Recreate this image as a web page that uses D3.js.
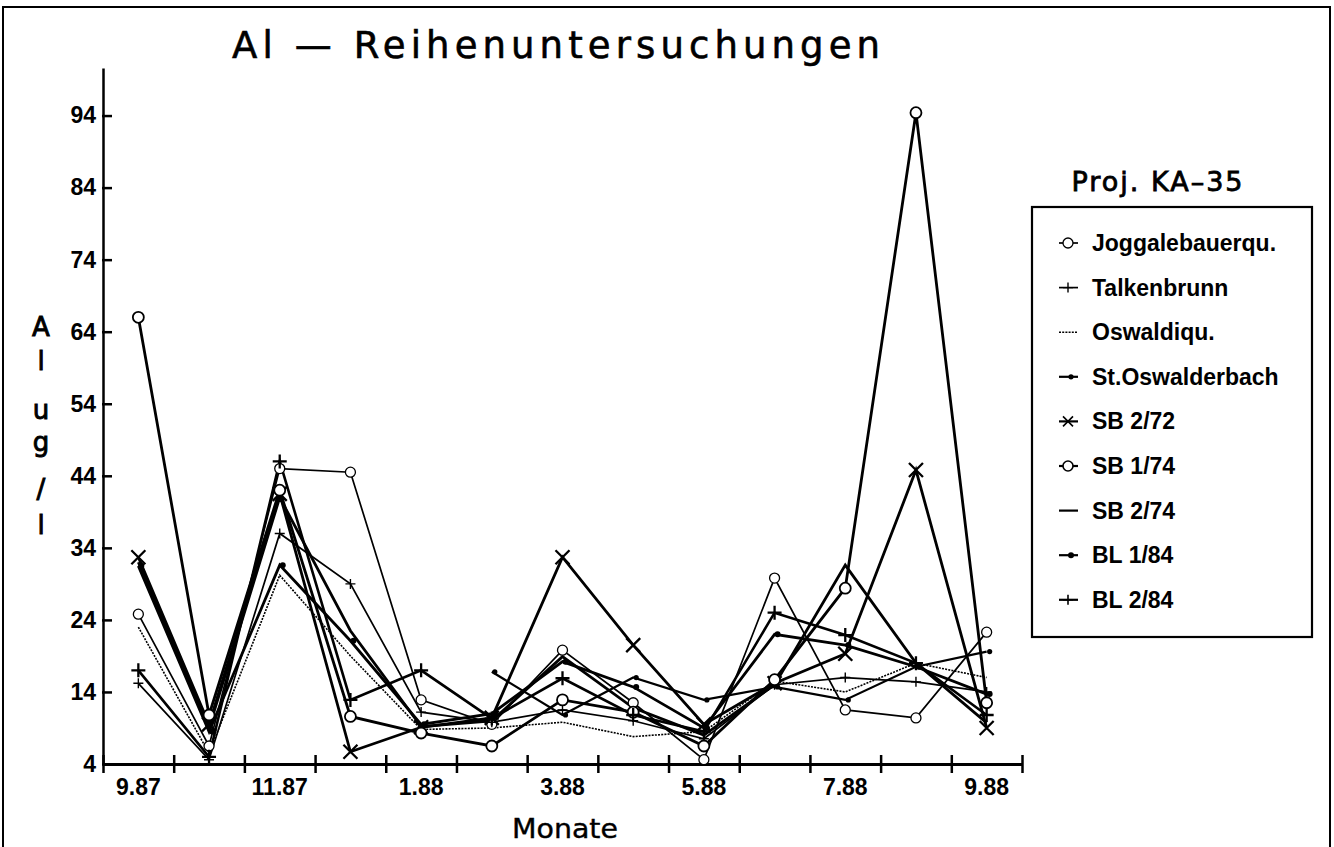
<!DOCTYPE html>
<html>
<head>
<meta charset="utf-8">
<script src="https://cdn.jsdelivr.net/npm/d3@7"></script>
<style>
  html, body { margin: 0; padding: 0; background: #fff; }
  svg { display: block; }
  .tick text { font-family: "Liberation Sans", Arial, sans-serif; font-weight: bold; font-size: 23px; fill: #000; }
</style>
</head>
<body>
<svg id="chart" width="1334" height="847"></svg>
<script>
// Monthly sampling dates (month.year)
const months = ["9.87","10.87","11.87","12.87","1.88","2.88","3.88","4.88","5.88","6.88","7.88","8.88","9.88"];
const monthLabels = ["9.87","11.87","1.88","3.88","5.88","7.88","9.88"];
const yTicks = [4, 14, 24, 34, 44, 54, 64, 74, 84, 94];

// Aluminium concentrations (µg/l) per sampling point
const joggalebauerqu = [24.8, 6.5, 45.0, 44.5, 12.9, 9.5, 19.8, 12.5, 4.6, 29.8, 11.5, 10.4, 22.3];
const talkenbrunn    = [15.2, 4.6, 36.0, 29.0, 11.2, 9.8, 11.5, 10.0, 7.5, 15.0, 16.0, 15.4, 14.0];
const oswaldiqu      = [23.0, 5.5, 30.2, 19.0, 8.8, 9.0, 9.8, 7.8, 8.5, 15.5, 14.0, 18.0, 16.0];
const stOswalderbach = [null, null, null, null, null, 16.8, 10.8, 16.0, 12.9, 14.7, 12.9, 17.5, 19.6];
const sb272          = [32.7, 9.5, 41.5, 5.7, 9.1, 10.4, 32.7, 20.5, 9.5, 15.2, 19.3, 44.8, 9.0];
const sb174          = [66.0, 10.8, 42.0, 10.6, 8.3, 6.5, 12.9, 11.2, 6.5, 15.7, 28.4, 94.4, 12.5];
const sb274          = [32.0, 9.0, 41.0, 22.5, 9.2, 10.0, 18.9, 11.8, 8.0, 15.0, 31.6, 18.0, 9.7];
const bl184          = [31.5, 8.5, 31.6, 21.1, 9.5, 11.0, 18.2, 14.7, 9.0, 22.0, 20.5, 17.5, 13.7];
const bl284          = [17.0, 5.0, 46.0, 12.9, 17.0, 10.3, 15.9, 10.8, 8.5, 25.0, 21.9, 18.0, 10.8];

const seriesNames = ["Joggalebauerqu.", "Talkenbrunn", "Oswaldiqu.", "St.Oswalderbach",
                     "SB 2/72", "SB 1/74", "SB 2/74", "BL 1/84", "BL 2/84"];
const seriesValues = [joggalebauerqu, talkenbrunn, oswaldiqu, stOswalderbach,
                      sb272, sb174, sb274, bl184, bl284];
const seriesMarkers = ["ring", "plus", "none", "dot", "cross", "circle", "none", "dot", "plus"];

// line and marker styling per series
const styleOf = {
  "Joggalebauerqu.": { w: 1.7, dash: null, size: 5, mw: 1.3 },
  "Talkenbrunn":     { w: 1.7, dash: null, size: 5, mw: 1.4 },
  "Oswaldiqu.":      { w: 1.6, dash: "2,1.2", size: 0, mw: 0 },
  "St.Oswalderbach": { w: 2.2, dash: null, size: 2.6, mw: 0 },
  "SB 2/72":         { w: 2.8, dash: null, size: 7, mw: 2.3 },
  "SB 1/74":         { w: 2.8, dash: null, size: 5.5, mw: 1.8 },
  "SB 2/74":         { w: 2.8, dash: null, size: 0, mw: 0 },
  "BL 1/84":         { w: 2.8, dash: null, size: 3, mw: 0 },
  "BL 2/84":         { w: 2.6, dash: null, size: 7, mw: 2.3 }
};

const svg = d3.select("#chart");

// outer frame
svg.append("rect")
  .attr("x", 3).attr("y", 7).attr("width", 1327).attr("height", 845)
  .attr("fill", "none").attr("stroke", "#000").attr("stroke-width", 2);

const x = d3.scaleBand().domain(months).range([103, 1022]).paddingInner(0).paddingOuter(0);
const xEdge = d3.scaleLinear().domain([0, months.length]).range([103, 1022]);
const y = d3.scaleLinear().domain([4, 100.6]).range([764, 68]);
const cx = m => x(m) + x.bandwidth() / 2;

// title
svg.append("text")
  .attr("x", 232).attr("y", 58)
  .attr("textLength", 648).attr("lengthAdjust", "spacing")
  .style("font-family", "'DejaVu Sans', sans-serif")
  .style("font-size", "37px")
  .attr("stroke", "#000").attr("stroke-width", 0.6)
  .text("Al \u2014 Reihenuntersuchungen");

// y axis (ticks pointing into the plot)
const yAxis = svg.append("g")
  .attr("transform", "translate(103,0)")
  .call(d3.axisLeft(y).tickValues(yTicks).tickSizeInner(-9).tickSizeOuter(0).tickPadding(7));
yAxis.select(".domain").attr("stroke-width", 2.5);
yAxis.selectAll(".tick line").attr("stroke-width", 2.5).attr("x1", -1);

// x axis with ticks on the month boundaries
const xAxis = svg.append("g")
  .attr("transform", "translate(0,764)")
  .call(d3.axisBottom(xEdge).tickValues(d3.range(0, months.length + 1)).tickSizeOuter(0).tickFormat(""));
xAxis.select(".domain").attr("stroke-width", 3);
xAxis.selectAll(".tick line").attr("y1", -9).attr("y2", 9).attr("stroke-width", 2.5);

// month labels every second band
svg.append("g")
  .attr("transform", "translate(0,764)")
  .call(d3.axisBottom(x).tickValues(monthLabels).tickSize(0).tickPadding(15))
  .call(g => g.select(".domain").remove());

// axis titles
svg.append("text")
  .attr("x", 565).attr("y", 838).attr("text-anchor", "middle")
  .attr("textLength", 106).attr("lengthAdjust", "spacingAndGlyphs")
  .style("font-family", "'DejaVu Sans', sans-serif").style("font-size", "27px")
  .attr("stroke", "#000").attr("stroke-width", 0.4)
  .text("Monate");

// y title written as a vertical stack of letters
const yLetters = [["A", 336], ["l", 370], ["u", 419], ["g", 451], ["/", 498], ["l", 534]];
svg.append("g").selectAll("text").data(yLetters).join("text")
  .attr("x", 41).attr("y", d => d[1]).attr("text-anchor", "middle")
  .style("font-family", "'DejaVu Sans', sans-serif").style("font-size", "26px")
  .attr("stroke", "#000").attr("stroke-width", 0.9)
  .text(d => d[0]);

// marker shapes
function drawMarker(g, type, px, py, st) {
  if (type === "ring" || type === "circle") {
    g.append("circle").attr("cx", px).attr("cy", py).attr("r", st.size)
      .attr("fill", "#fff").attr("stroke", "#000").attr("stroke-width", st.mw);
  } else if (type === "plus") {
    g.append("path")
      .attr("d", `M${px - st.size},${py}H${px + st.size}M${px},${py - st.size}V${py + st.size}`)
      .attr("stroke", "#000").attr("stroke-width", st.mw);
  } else if (type === "cross") {
    const s = st.size;
    g.append("path")
      .attr("d", `M${px - s},${py - s}L${px + s},${py + s}M${px + s},${py - s}L${px - s},${py + s}`)
      .attr("stroke", "#000").attr("stroke-width", st.mw);
  } else if (type === "dot") {
    g.append("circle").attr("cx", px + 3).attr("cy", py).attr("r", st.size).attr("fill", "#000");
  }
}

const line = d3.line()
  .defined(d => d.v !== null)
  .x(d => cx(d.m))
  .y(d => y(d.v));

const plot = svg.append("g");
seriesNames.forEach((name, i) => {
  const st = styleOf[name];
  const pts = months.map((m, j) => ({ m, v: seriesValues[i][j] }));
  plot.append("path")
    .datum(pts)
    .attr("d", line)
    .attr("fill", "none")
    .attr("stroke", "#000")
    .attr("stroke-width", st.w)
    .attr("stroke-linejoin", "miter")
    .attr("stroke-dasharray", st.dash);
});
seriesNames.forEach((name, i) => {
  const st = styleOf[name];
  const mg = plot.append("g");
  months.forEach((m, j) => {
    const v = seriesValues[i][j];
    if (v === null) return;
    drawMarker(mg, seriesMarkers[i], cx(m), y(v), st);
  });
});

// legend
svg.append("text")
  .attr("x", 1157).attr("y", 191).attr("text-anchor", "middle")
  .attr("textLength", 171).attr("lengthAdjust", "spacing")
  .style("font-family", "'DejaVu Sans', sans-serif").style("font-size", "27px")
  .attr("stroke", "#000").attr("stroke-width", 0.8)
  .text("Proj. KA\u201335");

svg.append("rect")
  .attr("x", 1032).attr("y", 207).attr("width", 280).attr("height", 430)
  .attr("fill", "#fff").attr("stroke", "#000").attr("stroke-width", 2.2);

const leg = svg.append("g");
seriesNames.forEach((name, i) => {
  const st = styleOf[name];
  const ly = 243 + i * 44.6;
  leg.append("line")
    .attr("x1", 1059).attr("x2", 1078).attr("y1", ly).attr("y2", ly)
    .attr("stroke", "#000").attr("stroke-width", Math.min(st.w, 2.2))
    .attr("stroke-dasharray", st.dash);
  const lst = Object.assign({}, st, { size: Math.min(st.size, 5), mw: Math.min(st.mw, 1.6) });
  drawMarker(leg, seriesMarkers[i], 1068, ly, lst);
  leg.append("text")
    .attr("x", 1092).attr("y", ly + 8)
    .style("font-family", "'Liberation Sans', Arial, sans-serif")
    .style("font-weight", "bold").style("font-size", "23px")
    .text(name);
});
</script>
</body>
</html>
